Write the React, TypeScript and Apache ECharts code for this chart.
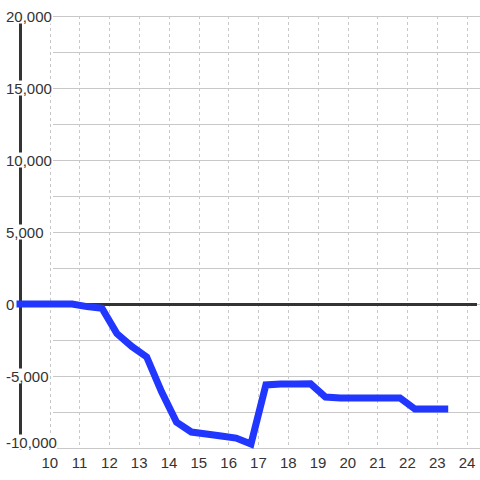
import React, { useEffect, useRef } from "react";
import * as echarts from "echarts";

const xValues = [9, 9.25, 9.75, 10.25, 10.75, 11.25, 11.75, 12.25, 12.75, 13.25, 13.75, 14.25, 14.75, 15.25, 15.75, 16.25, 16.75, 17.25, 17.75, 18.25, 18.75, 19.25, 19.75, 20.25, 20.75, 21.25, 21.75, 22.25, 22.75, 23.25];
const yValues = [0, 0, 0, 0, 0, -180, -300, -2050, -2950, -3680, -6100, -8200, -8890, -9030, -9170, -9310, -9720, -5620, -5560, -5560, -5540, -6460, -6530, -6530, -6530, -6530, -6530, -7290, -7290, -7290];
const xMin = 9;
const xMax = 24.3333;
const yMin = -10000;
const yMax = 20000;
const yInterval = 2500;
const yLabelStep = 5000;
const zeroLineValue = 0;

const FONT = "'Liberation Sans', Arial, sans-serif";

function fmt(v: number): string {
  const s = Math.abs(v).toLocaleString("en-US");
  return v < 0 ? "-" + s : s;
}

export default function App() {
  const ref = useRef<HTMLDivElement>(null);
  useEffect(() => {
    if (!ref.current) return;
    const chart = echarts.init(ref.current, null, { renderer: "svg" });
    const data = xValues.map((x, i) => [x, yValues[i]]);
    chart.setOption({
      animation: false,
      backgroundColor: "#ffffff",
      grid: [
        { left: 20, right: 0, top: 16, bottom: 32 },
        { left: 53, right: 0, top: 16, bottom: 32 },
      ],
      xAxis: [
        {
          type: "value",
          gridIndex: 0,
          min: xMin,
          max: xMax,
          interval: 1,
          axisLine: { show: false },
          axisTick: { show: false },
          splitLine: {
            show: true,
            showMaxLine: false,
            showMinLine: false,
            lineStyle: { color: "#c8c8c8", type: [3, 3], width: 1 },
          },
          axisLabel: {
            margin: 7,
            color: "#333",
            fontSize: 15,
            fontFamily: FONT,
            formatter: (v: number) => (Number.isInteger(v) && v >= 10 ? String(v) : ""),
          },
        },
        {
          type: "value",
          gridIndex: 1,
          show: false,
          min: 0,
          max: 1,
        },
      ],
      yAxis: [
        {
          type: "value",
          gridIndex: 0,
          min: yMin,
          max: yMax,
          interval: yInterval,
          axisLine: { show: true, onZero: false, lineStyle: { color: "#333", width: 3 } },
          axisTick: { show: false },
          splitLine: { show: false },
          axisLabel: {
            align: "left",
            margin: 14,
            color: "#333",
            fontSize: 15,
            fontFamily: FONT,
            formatter: (v: number) => {
              if (v % yLabelStep !== 0) return "";
              if (v === yMin) return "{a|" + fmt(v) + "}\n{s| }";
              return "{a|" + fmt(v) + "}";
            },
            rich: {
              a: { backgroundColor: "#ffffff", fontSize: 15, lineHeight: 15, color: "#333", fontFamily: FONT },
              s: { fontSize: 10, lineHeight: 12 },
            },
          },
        },
        {
          type: "value",
          gridIndex: 1,
          min: yMin,
          max: yMax,
          interval: yInterval,
          axisLine: { show: false },
          axisTick: { show: false },
          axisLabel: { show: false },
          splitLine: { show: true, lineStyle: { color: "#c8c8c8", width: 1 } },
        },
      ],
      series: [
        {
          type: "line",
          xAxisIndex: 0,
          yAxisIndex: 0,
          data: [],
          z: 1,
          symbol: "none",
          markLine: {
            silent: true,
            symbol: "none",
            label: { show: false },
            lineStyle: { color: "#333", width: 3, type: "solid" },
            data: [{ yAxis: zeroLineValue }],
          },
        },
        {
          type: "line",
          xAxisIndex: 0,
          yAxisIndex: 0,
          data,
          symbol: "none",
          z: 5,
          clip: false,
          lineStyle: { color: "#2136ff", width: 7, cap: "square", join: "miter" },
        },
      ],
    });
    return () => chart.dispose();
  }, []);
  return <div ref={ref} style={{ width: 480, height: 480, position: "absolute", left: 0, top: 0 }} />;
}
